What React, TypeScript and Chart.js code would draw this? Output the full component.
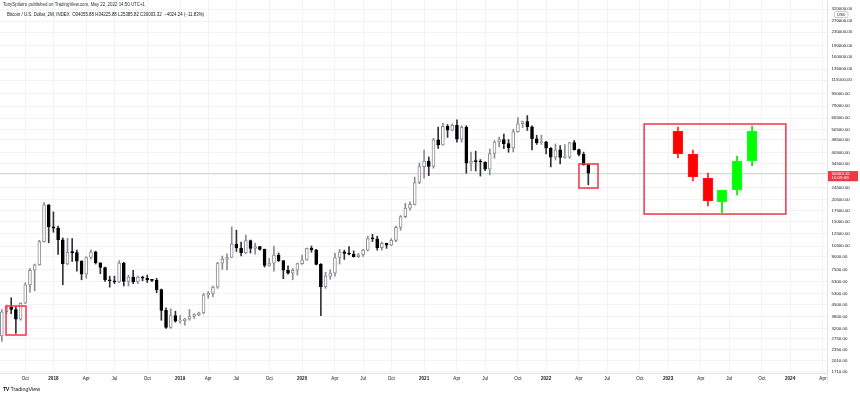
import React, { useEffect, useRef } from 'react';
import { Chart, registerables } from 'chart.js';

Chart.register(...registerables);

const FONT = "'Liberation Sans', Arial, sans-serif";

// 2-week candles, index -1 = 2017-07-31 ... 124 = 2022-05-09
const FIRST_BAR = -1;
const opens = [
  2870, 4070, 4350, 4200, 3650, 4600, 6000, 7400, 8000, 11200, 19000,
  13850, 13600, 11500, 8100, 9600, 9550, 8450, 7000, 8900, 9650,
  8250, 7700, 6450, 6350, 6250, 8200, 6300, 6700, 6250, 6700,
  6600, 6450, 6400, 5600, 4150, 3250, 3850, 3550, 3580, 3650,
  3800, 3900, 4000, 5200, 5300, 5800, 8200, 8700, 8900, 10800,
  10200, 9500, 11350, 10150, 10400, 10000, 7950, 8200, 9200, 8500,
  7400, 7100, 7400, 8150, 8600, 10150, 9950, 8050, 5850, 6800,
  7100, 8900, 9650, 9450, 9350, 9000, 9250, 9900, 11700, 11650,
  10250, 10900, 10650, 11400, 13750, 16050, 18150, 19150, 26250, 33000,
  35800, 33100, 48600, 45200, 59000, 55800, 60000, 49000, 58200, 34700,
  35800, 35500, 35300, 31800, 39900, 47100, 48800, 46000, 43200, 54700,
  61300, 63300, 58700, 49400, 46700, 47300, 43100, 37900, 42100, 37700,
  37800, 46800, 42200, 39400, 34055.88,
];
const closes = [
  4070, 4350, 4200, 3650, 4600, 6000, 7400, 8000, 11200, 19000, 13850,
  13600, 11500, 8100, 9600, 9550, 8450, 7000, 8900, 9650, 8250,
  7700, 6450, 6350, 6250, 8200, 6300, 6700, 6250, 6700, 6600,
  6450, 6400, 5600, 4150, 3250, 3850, 3550, 3580, 3650, 3800,
  3900, 4000, 5200, 5300, 5800, 8200, 8700, 8900, 10800, 10200,
  9500, 11350, 10150, 10400, 10000, 7950, 8200, 9200, 8500, 7400,
  7100, 7400, 8150, 8600, 10150, 9950, 8050, 5850, 6800, 7100,
  8900, 9650, 9450, 9350, 9000, 9250, 9900, 11700, 11650, 10250,
  10900, 10650, 11400, 13750, 16050, 18150, 19150, 26250, 33000, 35800,
  33100, 48600, 45200, 59000, 55800, 60000, 49000, 58200, 34700, 35800,
  35500, 35300, 31800, 39900, 47100, 48800, 46000, 43200, 54700, 61300,
  63300, 58700, 49400, 46700, 47300, 43100, 37900, 42100, 37700, 37800,
  46800, 42200, 39400, 34027.56, 30003.32,
];
const highs = [
  4200, 4480, 4980, 4380, 4620, 6180, 7600, 8100, 11400, 19670, 19100,
  17200, 14000, 11800, 11750, 11700, 9900, 8500, 9000, 9950, 9750,
  8250, 7750, 6800, 6800, 8500, 8300, 6900, 7400, 6800, 6800,
  6900, 6500, 6600, 5650, 4300, 4250, 4100, 3850, 3700, 4200,
  3950, 4050, 5300, 5450, 5900, 8300, 9100, 9400, 13850, 13200,
  11100, 12300, 11450, 10950, 10450, 10050, 8800, 10500, 9500, 8500,
  7900, 7600, 8200, 9200, 10200, 10500, 10000, 8150, 7200, 7450,
  9450, 10000, 9900, 10400, 9800, 9450, 10000, 12100, 12450, 12100,
  11100, 10950, 11700, 14000, 16300, 19450, 19900, 28400, 34800, 41950,
  38000, 49700, 58350, 61700, 60600, 61200, 64900, 59600, 59600, 40800,
  41300, 36600, 35400, 42600, 48100, 50500, 52900, 48800, 56500, 67000,
  63700, 69000, 59400, 51900, 52100, 47500, 43500, 45800, 44700, 45400,
  46900, 48200, 42500, 40700, 34225.88,
];
const lows = [
  2650, 3950, 3950, 2980, 3600, 4580, 5400, 5500, 7950, 11100, 11000,
  12800, 9300, 6000, 8000, 8400, 7300, 6450, 6600, 8700, 8100,
  7050, 6300, 5800, 6100, 6200, 5900, 5900, 6100, 6100, 6350,
  6200, 6270, 5350, 3600, 3200, 3200, 3500, 3450, 3350, 3600,
  3700, 3850, 3950, 4950, 5050, 5700, 7500, 7450, 8900, 9700,
  9100, 9400, 9500, 9350, 9900, 7750, 7850, 7300, 8400, 6550,
  7000, 6450, 6900, 8050, 8550, 9600, 8000, 3850, 5700, 6500,
  6800, 8100, 8650, 9250, 8950, 8900, 9050, 9800, 11200, 9900,
  9900, 10150, 10550, 11200, 13200, 15800, 17600, 19000, 25800, 28000,
  29000, 32300, 43000, 45000, 50300, 55500, 47000, 47000, 30000, 31000,
  31000, 28800, 31100, 29300, 37300, 43900, 42800, 40600, 40800, 54300,
  58000, 55600, 42000, 45500, 45500, 39600, 32900, 36300, 34300, 37200,
  37200, 41900, 38500, 33700, 25385.82,
];
const lastPrice = 30003.32;

// Projected pattern (red / green candles in the big box)
const projBars = [143.1, 146.3, 149.5, 152.5, 155.7, 158.9];
const projOpen = [55230, 39620, 28010, 19820, 23570, 35800];
const projHigh = [58490, 41990, 30130, 23570, 38500, 59350];
const projLow = [37400, 26830, 18710, 16910, 21930, 33320];
const projClose = [39620, 28430, 20120, 23570, 35800, 55230];

// Highlight rectangles (bar index range, price range)
const boxStart = [-0.1, 122.0, 135.9];
const boxEnd = [4.16, 126.07, 166.1];
const boxTop = [4417, 34300, 61080];
const boxBottom = [2908, 24250, 16660];

// Axis ticks
const xTickPos = [4, 10, 17, 23, 30, 37, 43, 49, 56, 63, 70, 76, 82, 89, 96, 102, 109, 115, 122, 128, 135, 141, 148, 154, 161, 167, 174];
const xTickLabels = ['Oct', '2018', 'Apr', 'Jul', 'Oct', '2019', 'Apr', 'Jul', 'Oct', '2020', 'Apr', 'Jul', 'Oct', '2021', 'Apr', 'Jul', 'Oct', '2022', 'Apr', 'Jul', 'Oct', '2023', 'Apr', 'Jul', 'Oct', '2024', 'Apr'];
const yTicks = [320000, 270000, 230000, 190000, 160000, 135000, 115000, 95000, 79000, 66500, 56500, 48500, 40500, 34500, 29500, 24500, 20500, 17500, 15000, 12500, 10500, 9000, 7500, 6300, 5300, 4500, 3800, 3200, 2750, 2350, 2010, 1710];

const UP_COL = '#8a8d96';
const DOWN_COL = '#000000';
const GRID = '#f3f3f4';

const labelFor = (v: number) => {
  const i = xTickPos.indexOf(v);
  return i >= 0 ? xTickLabels[i] : '';
};

const overlay = {
  id: 'overlay',
  beforeDatasetsDraw(chart: any) {
    const { ctx, chartArea: a, scales } = chart;
    const py = Math.round(scales.y.getPixelForValue(lastPrice)) + 0.5;
    ctx.save();
    ctx.strokeStyle = '#f8c8cc';
    ctx.lineWidth = 1;
    ctx.beginPath();
    ctx.moveTo(a.left, py);
    ctx.lineTo(a.right, py);
    ctx.stroke();
    ctx.restore();
  },
  afterDatasetsDraw(chart: any) {
    const { ctx, scales } = chart;
    ctx.save();
    ctx.strokeStyle = 'rgba(242,54,69,0.95)';
    ctx.lineWidth = 1.6;
    for (let i = 0; i < boxStart.length; i++) {
      const x0 = scales.x.getPixelForValue(boxStart[i]);
      const x1 = scales.x.getPixelForValue(boxEnd[i]);
      const y0 = scales.y.getPixelForValue(boxTop[i]);
      const y1 = scales.y.getPixelForValue(boxBottom[i]);
      ctx.strokeRect(x0, y0, x1 - x0, y1 - y0);
    }
    ctx.restore();
  },
  afterDraw(chart: any) {
    const { ctx, chartArea: a, scales } = chart;
    ctx.save();
    // separator of the price scale
    ctx.strokeStyle = '#e0e3eb';
    ctx.lineWidth = 1;
    ctx.beginPath();
    ctx.moveTo(Math.round(a.right) + 0.5, 0);
    ctx.lineTo(Math.round(a.right) + 0.5, a.bottom + 11);
    ctx.stroke();
    // last price label
    const py = scales.y.getPixelForValue(lastPrice);
    ctx.fillStyle = '#f23645';
    ctx.fillRect(a.right + 1, py - 2.2, 30, 10.2);
    ctx.fillStyle = '#ffffff';
    ctx.font = `4.4px ${FONT}`;
    ctx.textBaseline = 'middle';
    ctx.textAlign = 'left';
    ctx.fillText(lastPrice.toFixed(2), a.right + 4.5, py + 0.6);
    ctx.fillText('10:09:08', a.right + 4.5, py + 5.0);
    // USD badge
    ctx.strokeStyle = '#b2b5be';
    ctx.lineWidth = 0.7;
    ctx.beginPath();
    ctx.roundRect(a.right + 7.5, 11.5, 13.5, 6, 1.5);
    ctx.fillStyle = '#ffffff';
    ctx.fill();
    ctx.stroke();
    ctx.fillStyle = '#131722';
    ctx.font = `4px ${FONT}`;
    ctx.textAlign = 'center';
    ctx.fillText('USD', a.right + 14.25, 14.7);
    ctx.restore();
  },
};

export default function App() {
  const ref = useRef<HTMLCanvasElement>(null);
  useEffect(() => {
    document.body.style.margin = '0';
    const idx = opens.map((_, i) => FIRST_BAR + i);
    const isUp = opens.map((o, i) => closes[i] >= o);
    const pUp = projOpen.map((o, i) => projClose[i] >= o);
    const chart = new Chart(ref.current as HTMLCanvasElement, {
      type: 'bar',
      data: {
        datasets: [
          {
            label: 'body',
            order: 0,
            data: idx.map((x, i) => ({ x, y: [opens[i], closes[i]] })) as any,
            backgroundColor: isUp.map((u) => (u ? '#ffffff' : DOWN_COL)),
            borderColor: isUp.map((u) => (u ? UP_COL : DOWN_COL)),
            borderWidth: 1,
            borderSkipped: false,
            barThickness: 3,
            minBarLength: 1,
            grouped: false,
          } as any,
          {
            label: 'wick',
            order: 1,
            data: idx.map((x, i) => ({ x, y: [lows[i], highs[i]] })) as any,
            backgroundColor: isUp.map((u) => (u ? UP_COL : '#333333')),
            borderWidth: 0,
            barThickness: 1,
            grouped: false,
          } as any,
          {
            label: 'projBody',
            order: 0,
            data: projBars.map((x, i) => ({ x, y: [projOpen[i], projClose[i]] })) as any,
            backgroundColor: pUp.map((u) => (u ? '#00ff00' : '#ff0000')),
            borderColor: pUp.map((u) => (u ? '#4cff4c' : '#ff4c4c')),
            borderWidth: 0.6,
            borderSkipped: false,
            barThickness: 10,
            grouped: false,
          } as any,
          {
            label: 'projWick',
            order: 1,
            data: projBars.map((x, i) => ({ x, y: [projLow[i], projHigh[i]] })) as any,
            backgroundColor: pUp.map((u) => (u ? '#00e600' : '#ff2020')),
            borderWidth: 0,
            barThickness: 1,
            grouped: false,
          } as any,
        ],
      },
      options: {
        animation: false,
        responsive: false,
        maintainAspectRatio: false,
        layout: { padding: 0 },
        plugins: { legend: { display: false }, tooltip: { enabled: false }, title: { display: false } },
        scales: {
          x: {
            type: 'linear',
            min: -1.385,
            max: 174.87,
            offset: false,
            afterBuildTicks: (s: any) => {
              s.ticks = xTickPos.map((v) => ({ value: v }));
            },
            afterFit: (s: any) => {
              s.height = 22;
              s.paddingLeft = 0;
              s.paddingRight = 0;
            },
            ticks: {
              autoSkip: false,
              maxRotation: 0,
              padding: 3,
              color: '#131722',
              callback: (v: any) => labelFor(Number(v)),
              font: (c: any) => ({
                family: FONT,
                size: 4.6,
                weight: /^\d{4}$/.test(labelFor(c.tick ? c.tick.value : NaN)) ? 'bold' : 'normal',
              }),
            },
            grid: { color: GRID, drawTicks: false, offset: false },
            border: { color: '#e0e3eb' },
          } as any,
          y: {
            type: 'logarithmic',
            position: 'right',
            min: 1681,
            max: 365572,
            bounds: 'data',
            afterBuildTicks: (s: any) => {
              s.ticks = yTicks.map((v) => ({ value: v }));
            },
            afterFit: (s: any) => {
              s.width = 33;
              s.paddingTop = 0;
              s.paddingBottom = 0;
            },
            ticks: {
              autoSkip: false,
              padding: 4.5,
              color: '#131722',
              font: { family: FONT, size: 4.4 },
              callback: (v: any) => Number(v).toFixed(2),
            },
            grid: { color: GRID, drawTicks: false },
            border: { color: '#e0e3eb' },
          } as any,
        },
      },
      plugins: [overlay],
    });
    return () => chart.destroy();
  }, []);

  const small = (left: number, top: number, extra: React.CSSProperties = {}): React.CSSProperties => ({
    position: 'absolute',
    left,
    top,
    fontSize: 9,
    lineHeight: '10px',
    transform: 'scale(0.49)',
    transformOrigin: '0 0',
    whiteSpace: 'nowrap',
    color: '#131722',
    fontFamily: FONT,
    ...extra,
  });

  return (
    <div style={{ position: 'relative', width: 860, height: 395, background: '#ffffff', overflow: 'hidden' }}>
      <canvas ref={ref} width={860} height={395} style={{ position: 'absolute', left: 0, top: 0 }} />
      <div style={small(3, 2.3, { color: '#2a2e39' })}>
        TonySpilotro published on TradingView.com, May 22, 2022 14:50 UTC+1
      </div>
      <div style={small(7, 12.3)}>
        Bitcoin / U.S. Dollar, 2W, INDEX&nbsp;&nbsp;O34055.88&nbsp;H34225.88&nbsp;L25385.82&nbsp;C30003.32&nbsp;&nbsp;−4024.24 (−11.83%)
      </div>
      <div style={small(3, 385.5, { fontSize: 11, lineHeight: '12px' })}>
        <span style={{ fontWeight: 900, letterSpacing: -1 }}>TV</span>&nbsp;TradingView
      </div>
    </div>
  );
}
